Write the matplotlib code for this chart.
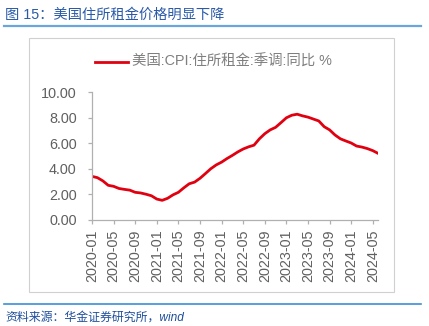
import matplotlib
matplotlib.use("Agg")
import matplotlib.pyplot as plt
from matplotlib.patches import Rectangle
from matplotlib.lines import Line2D

plt.rcParams['font.family'] = ['Liberation Sans', 'Noto Sans CJK SC', 'DejaVu Sans']

# monthly data 2020-01 .. 2024-06
months = ["2020-01", "2020-02", "2020-03", "2020-04", "2020-05", "2020-06",
          "2020-07", "2020-08", "2020-09", "2020-10", "2020-11", "2020-12",
          "2021-01", "2021-02", "2021-03", "2021-04", "2021-05", "2021-06",
          "2021-07", "2021-08", "2021-09", "2021-10", "2021-11", "2021-12",
          "2022-01", "2022-02", "2022-03", "2022-04", "2022-05", "2022-06",
          "2022-07", "2022-08", "2022-09", "2022-10", "2022-11", "2022-12",
          "2023-01", "2023-02", "2023-03", "2023-04", "2023-05", "2023-06",
          "2023-07", "2023-08", "2023-09", "2023-10", "2023-11", "2023-12",
          "2024-01", "2024-02", "2024-03", "2024-04", "2024-05", "2024-06"]
rent_yoy = [3.40, 3.30, 3.05, 2.70, 2.62, 2.45, 2.38, 2.32, 2.15, 2.10, 2.00, 1.88,
            1.62, 1.52, 1.68, 1.95, 2.15, 2.50, 2.82, 2.95, 3.25, 3.62, 4.00, 4.30,
            4.52, 4.80, 5.05, 5.32, 5.55, 5.72, 5.85, 6.35, 6.75, 7.05, 7.25, 7.62,
            8.00, 8.20, 8.28, 8.15, 8.05, 7.90, 7.75, 7.30, 7.05, 6.65, 6.35, 6.18,
            6.02, 5.78, 5.70, 5.58, 5.42, 5.20]
yticks = [0, 2, 4, 6, 8, 10]

title = "图 15：美国住所租金价格明显下降"
series_name = "美国:CPI:住所租金:季调:同比 %"
source = "资料来源：华金证券研究所，wind"

W, H = 429, 326
fig = plt.figure(figsize=(W / 100, H / 100), dpi=100)

def fx(px):
    return px / W

def fy(py):
    return 1 - py / H

# outer chart frame
fig.patches.append(Rectangle((fx(29), fy(292)), fx(394) - fx(29), fy(38) - fy(292),
                             transform=fig.transFigure, fill=False,
                             edgecolor="#d0d0d0", linewidth=0.8))

# title and rules
fig.text(fx(5), fy(15), title, color="#2a5aa8", fontsize=10.3, va="center", ha="left")
fig.add_artist(Line2D([fx(4), fx(421)], [fy(26), fy(26)], color="#6aa6db", linewidth=1.6))
fig.add_artist(Line2D([fx(4), fx(421)], [fy(304), fy(304)], color="#3a8fd8", linewidth=1.2))
fig.text(fx(5), fy(318), source, color="#1f4e9a", fontsize=8.6, style="italic",
         va="center", ha="left")

ax = fig.add_axes([fx(92), fy(219.7), fx(378.2) - fx(92), fy(92.3) - fy(219.7)])
x = list(range(len(months)))
ax.plot(x, rent_yoy, color="#e00010", linewidth=2.0, solid_capstyle="round")

ax.set_xlim(0, len(months) - 1)
ax.set_ylim(0, 10)
ax.set_yticks(yticks)
ax.set_yticklabels(["%.2f" % v for v in yticks])
tick_idx = list(range(0, len(months), 4))
ax.set_xticks(tick_idx)
ax.set_xticklabels([months[i] for i in tick_idx], rotation=90)

for s in ["top", "right"]:
    ax.spines[s].set_visible(False)
for s in ["left", "bottom"]:
    ax.spines[s].set_color("#b0b0b0")
    ax.spines[s].set_linewidth(0.9)
ax.tick_params(axis="both", colors="#b0b0b0", labelcolor="#606060", labelsize=10.4,
               length=3, width=0.9, direction="out")
ax.tick_params(axis="x", pad=4)
ax.tick_params(axis="y", pad=8)

# legend drawn manually at top
fig.add_artist(Line2D([fx(95), fx(128)], [fy(61.5), fy(61.5)], color="#e00010", linewidth=2.0))
fig.text(fx(132), fy(61.5), series_name, color="#7f7f7f", fontsize=10.4,
         va="center", ha="left")

fig.savefig("out.png", dpi=100)
